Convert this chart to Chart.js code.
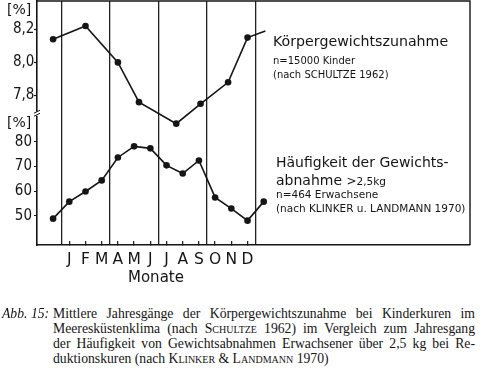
<!DOCTYPE html>
<html>
<head>
<meta charset="utf-8">
<script src="https://cdn.jsdelivr.net/npm/chart.js@4"></script>
<style>
  body { margin: 0; background: #fff; }
  #wrap { position: relative; width: 480px; height: 370px; overflow: hidden; color: #141414; }
  #box { position: absolute; left: 0; top: 0; width: 480px; height: 290px; }
  .t { position: absolute; white-space: nowrap; line-height: 1; font-family: 'DejaVu Sans', sans-serif; }
  .cap { position: absolute; left: 0; top: 306px; width: 478px; font-family: 'Liberation Serif', serif; font-size: 13.7px; line-height: 15px; }
  .cap .abb { position: absolute; left: 2px; top: 0; font-style: italic; }
  .cap .cl { margin-left: 53px; width: 422px; height: 15px; }
  .cap .j { text-align: justify; text-align-last: justify; }
  .sc { font-variant: small-caps; }
</style>
</head>
<body>
<div id="wrap">
  <div id="box"><canvas id="chart"></canvas></div>

  <div class="t" style="left:7px;top:2px;font-size:14px">[%]</div>
  <div class="t" style="left:7px;top:115px;font-size:14px">[%]</div>

  <div class="t" style="left:273px;top:34px;font-size:14.2px">Körpergewichtszunahme</div>
  <div class="t" style="left:273px;top:56px;font-size:10px">n=15000 Kinder</div>
  <div class="t" style="left:273px;top:69.5px;font-size:10px">(nach SCHULTZE 1962)</div>

  <div class="t" style="left:276px;top:155px;font-size:14px">Häufigkeit der Gewichts-</div>
  <div class="t" style="left:276px;top:172.5px;font-size:14px">abnahme <span style="font-size:12px">&gt;</span><span style="font-size:10.5px">2,5kg</span></div>
  <div class="t" style="left:276px;top:188.5px;font-size:10.5px">n=464 Erwachsene</div>
  <div class="t" style="left:276px;top:203px;font-size:10.5px">(nach KLINKER u. LANDMANN 1970)</div>

  <div class="t" style="left:128px;top:270px;font-size:15px">Monate</div>

  <div class="cap">
    <div class="abb">Abb. 15:</div>
    <div class="cl j">Mittlere Jahresgänge der Körpergewichtszunahme bei Kinderkuren im</div>
    <div class="cl j">Meeresküstenklima (nach <span class="sc">Schultze</span> 1962) im Vergleich zum Jahresgang</div>
    <div class="cl j">der Häufigkeit von Gewichtsabnahmen Erwachsener über 2,5 kg bei Re-</div>
    <div class="cl">duktionskuren (nach <span class="sc">Klinker</span> &amp; <span class="sc">Landmann</span> 1970)</div>
  </div>
</div>

<script>
// months on the x axis: 1 = Januar ... 12 = Dezember, 0 / 13 = Vorjahr / Folgejahr
const monthLabels = ['J', 'F', 'M', 'A', 'M', 'J', 'J', 'A', 'S', 'O', 'N', 'D'];
const monthTicks = [1, 2, 3, 4, 5, 6, 7, 8, 9, 10, 11, 12];
const quarterLines = [0.5, 3.5, 6.5, 9.5, 12.5];

// Körpergewichtszunahme (Kinder, nach Schultze 1962), %
const gainMonths = [0, 2, 4, 5.3, 7.6, 9.1, 10.8, 12, 13.1];
const gainValues = [8.14, 8.22, 8.00, 7.76, 7.63, 7.75, 7.88, 8.15, 8.19];
const gainTicks = [7.8, 8.0, 8.2];

// Häufigkeit der Gewichtsabnahme > 2,5 kg (Erwachsene, nach Klinker u. Landmann 1970), %
const lossMonths = [0, 1, 2, 3, 4, 5, 6, 7, 8, 9, 10, 11, 12, 13];
const lossValues = [48.8, 55.7, 59.8, 64.3, 73.6, 78.1, 77.3, 70.4, 67.1, 72.4, 57.4, 52.9, 48.0, 55.7];
const lossTicks = [50, 60, 70, 80];

const ink = '#151515';
const tickFont = { family: "'Liberation Sans Narrow', 'DejaVu Sans Condensed', 'Liberation Sans'", size: 15 };
const isQuarter = v => quarterLines.includes(v);

const framePlugin = {
    id: 'frame',
    afterDraw(chart) {
        const { ctx, chartArea: a, scales } = chart;
        ctx.save();
        ctx.strokeStyle = ink;
        ctx.lineWidth = 1.4;
        ctx.beginPath();
        ctx.moveTo(a.left, a.top);
        ctx.lineTo(a.right, a.top);
        ctx.lineTo(a.right, a.bottom);
        ctx.stroke();
        // break mark on the y axis between the two scales
        const yb = scales.y.getPixelForValue(7.69);
        ctx.fillStyle = '#fff';
        ctx.fillRect(a.left - 2, yb - 2, 4, 4);
        ctx.lineWidth = 1;
        ctx.beginPath();
        ctx.moveTo(a.left - 3, yb - 0.5); ctx.lineTo(a.left + 3, yb - 3.5);
        ctx.moveTo(a.left - 3, yb + 2.5); ctx.lineTo(a.left + 3, yb - 0.5);
        ctx.stroke();
        ctx.restore();
    }
};

const noPad = s => { s.paddingTop = 0; s.paddingBottom = 0; s.paddingLeft = 0; s.paddingRight = 0; };

new Chart(document.getElementById('chart'), {
    type: 'line',
    data: {
        datasets: [
            {
                data: gainMonths.map((m, i) => ({ x: m, y: gainValues[i] })),
                yAxisID: 'y',
                borderColor: ink,
                borderWidth: 1.6,
                pointRadius: gainValues.map((v, i) => i === gainValues.length - 1 ? 0 : 3.3),
                pointBackgroundColor: ink,
                pointBorderWidth: 0,
                tension: 0
            },
            {
                data: lossMonths.map((m, i) => ({ x: m, y: lossValues[i] })),
                yAxisID: 'y2',
                borderColor: ink,
                borderWidth: 1.6,
                pointRadius: 3.3,
                pointBackgroundColor: ink,
                pointBorderWidth: 0,
                tension: 0
            }
        ]
    },
    options: {
        responsive: true,
        maintainAspectRatio: false,
        animation: false,
        layout: { autoPadding: false, padding: { top: 1, right: 10, left: 0, bottom: 0 } },
        plugins: { legend: { display: false }, tooltip: { enabled: false } },
        scales: {
            x: {
                type: 'linear',
                min: -0.994,
                max: 25.73,
                afterBuildTicks: s => { s.ticks = quarterLines.concat(monthTicks).sort((a, b) => a - b).map(v => ({ value: v })); },
                afterFit: s => { s.height = 45; noPad(s); },
                ticks: {
                    autoSkip: false,
                    maxRotation: 0,
                    padding: 10,
                    color: ink,
                    font: { family: 'DejaVu Sans', size: 15.5 },
                    callback: v => isQuarter(v) ? '' : monthLabels[v - 1]
                },
                grid: {
                    color: c => isQuarter(c.tick.value) ? '#222' : 'rgba(0,0,0,0)',
                    tickColor: c => isQuarter(c.tick.value) ? 'rgba(0,0,0,0)' : ink,
                    lineWidth: 1.3,
                    tickWidth: 1.2,
                    tickLength: -4
                },
                border: { display: true, color: ink, width: 1.6 }
            },
            y2: {
                position: 'left',
                weight: 1,
                min: 38.13,
                max: 137.0,
                afterBuildTicks: s => { s.ticks = lossTicks.map(v => ({ value: v })); },
                afterFit: s => { s.width = 37; noPad(s); },
                ticks: { padding: 2, color: ink, font: tickFont },
                grid: { drawOnChartArea: false, color: ink, tickLength: 3, tickWidth: 1.2 },
                border: { display: true, color: ink, width: 1.6 }
            },
            y: {
                // zero-width inner axis; labels mirrored back out into the y2 gutter
                position: 'left',
                weight: 0,
                min: 6.897,
                max: 8.371,
                afterBuildTicks: s => { s.ticks = gainTicks.map(v => ({ value: v })); },
                afterFit: s => { s.width = 0; noPad(s); },
                ticks: {
                    mirror: true,
                    padding: -24,
                    color: ink,
                    font: tickFont,
                    callback: v => v.toFixed(1).replace('.', ',')
                },
                grid: { drawOnChartArea: false, color: ink, tickLength: 3, tickWidth: 1.2 },
                border: { display: false }
            }
        }
    },
    plugins: [framePlugin]
});
</script>
</body>
</html>
